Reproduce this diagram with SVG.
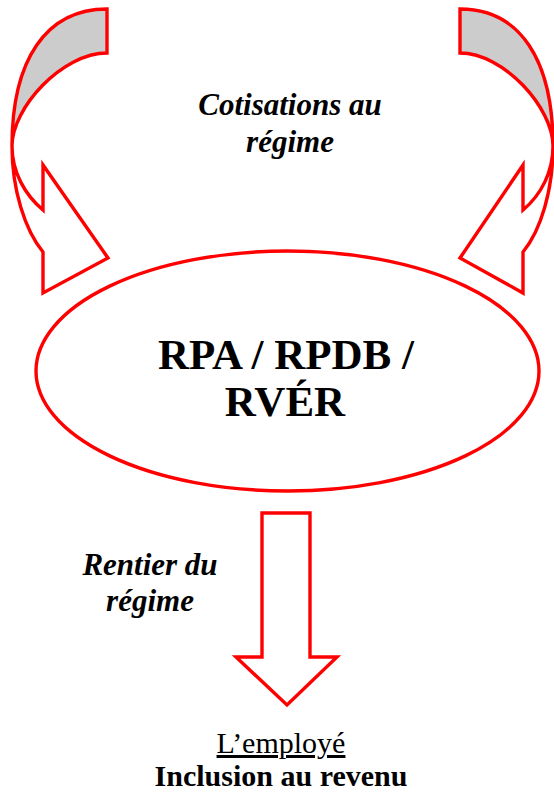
<svg xmlns="http://www.w3.org/2000/svg" width="554" height="793" viewBox="0 0 554 793">
<style>
.s{stroke:#ff0000;stroke-width:3.4;stroke-linejoin:miter}
.back{fill:#cccccc}
.front{fill:#ffffff}
.t{font-family:"Liberation Serif","Times New Roman",serif;fill:#000;text-anchor:middle}
.bi{font-weight:bold;font-style:italic;font-size:31px}
</style>
<rect width="554" height="793" fill="#ffffff"/>
<g id="connectors">
<g id="arrow-left">
<path class="s back" d="M107,9 C46,9 12,60 12,146 C12,108 62,53 107,53 Z"/>
<path class="s front" d="M12,146 C12,190 25,230 43,252 L43,293 L108,258 L43,165 L43,210 C25,195 12,172 12,146 Z"/>
</g>
<g id="arrow-right">
<path class="s back" d="M460,9 C520,9 553,60 553,146 C553,108 504,53 460,53 Z"/>
<path class="s front" d="M553,146 C553,190 541,230 523,252 L523,293 L460,258 L523,165 L523,210 C541,195 553,172 553,146 Z"/>
</g>
<path id="arrow-down" class="s front" d="M262,513 L310,513 L310,657 L337,657 L287,705 L236,657 L262,657 Z"/>
</g>
<g id="label-cotisations">
<text class="t bi" x="290" y="115">Cotisations au</text>
<text class="t bi" x="290" y="152">régime</text>
</g>
<g id="node-regime">
<ellipse class="s" fill="#ffffff" cx="287.5" cy="371" rx="251.5" ry="120"/>
<text class="t" font-weight="bold" font-size="43" x="286" y="369">RPA / RPDB /</text>
<text class="t" font-weight="bold" font-size="43" x="285" y="416">RVÉR</text>
</g>
<g id="label-rentier">
<text class="t bi" x="150" y="575">Rentier du</text>
<text class="t bi" x="150" y="611">régime</text>
</g>
<g id="node-employe">
<text class="t" font-size="30" x="281" y="753" text-decoration="underline">L’employé</text>
<text class="t" font-weight="bold" font-size="30" x="281" y="786">Inclusion au revenu</text>
</g>
</svg>
